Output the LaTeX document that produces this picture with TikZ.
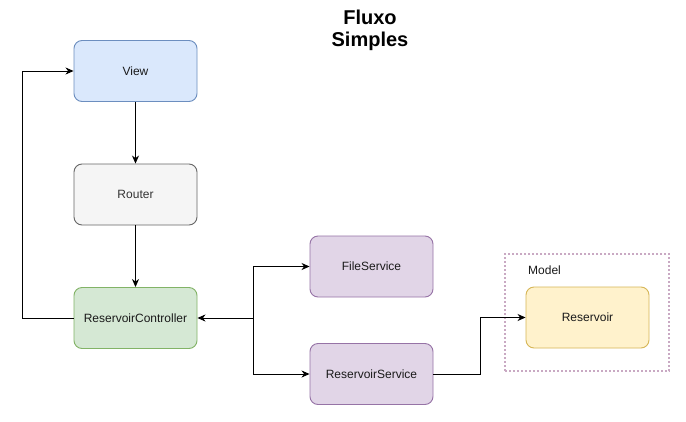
\documentclass[tikz,border=0pt]{standalone}
\usepackage{fontspec}
\setmainfont{Liberation Sans}
\usetikzlibrary{arrows.meta,positioning}
\definecolor{bluefill}{HTML}{DAE8FC}\definecolor{bluestroke}{HTML}{6C8EBF}
\definecolor{greyfill}{HTML}{F5F5F5}\definecolor{greystroke}{HTML}{666666}
\definecolor{greentext}{HTML}{333333}
\definecolor{greenfill}{HTML}{D5E8D4}\definecolor{greenstroke}{HTML}{82B366}
\definecolor{purplefill}{HTML}{E1D5E7}\definecolor{purplestroke}{HTML}{9673A6}
\definecolor{yellowfill}{HTML}{FFF2CC}\definecolor{yellowstroke}{HTML}{D6B656}
\definecolor{modelstroke}{HTML}{C9A9C3}
\definecolor{txt}{HTML}{1A1A1A}
\begin{document}
\begin{tikzpicture}[x=1pt,y=-1pt,
  box/.style={draw,rounded corners=8pt,minimum width=123pt,minimum height=61pt,line width=0.9pt,font=\fontsize{12}{14}\selectfont,text=txt,inner sep=0pt},
  conn/.style={line width=1pt,-{Stealth[length=8pt,width=7pt,inset=2.5pt]}},
  plain/.style={line width=1pt}]
\useasboundingbox (0,0) rectangle (686,421);
\fill[white] (0,0) rectangle (686,421);
\node[font=\bfseries\fontsize{20}{22}\selectfont,align=center] (title) at (370,30) {Fluxo\\Simples};
\node[box,fill=bluefill,draw=bluestroke] (view) at (135.5,71) {View};
\node[box,fill=greyfill,draw=greystroke,text=greentext] (router) at (135.5,194.5) {Router};
\node[box,fill=greenfill,draw=greenstroke] (ctrl) at (135.5,318) {ReservoirController};
\node[box,fill=purplefill,draw=purplestroke] (fs) at (371.5,266.5) {FileService};
\node[box,fill=purplefill,draw=purplestroke] (rs) at (371.5,374) {ReservoirService};
\node[draw=modelstroke,dash pattern=on 2pt off 2pt,line width=1.2pt,minimum width=164pt,minimum height=117pt,inner sep=0pt] (model) at (587,312.5) {};
\node[font=\fontsize{12}{14}\selectfont,text=txt,anchor=west,inner sep=0pt] (modellabel) at (528,270) {Model};
\node[box,fill=yellowfill,draw=yellowstroke] (res) at (587.5,317.5) {Reservoir};
\coordinate (junc) at (253,318);
\coordinate (leftc) at (22,318);
\coordinate (bend) at (480,374);
\draw[conn] (view) -- (router);
\draw[conn] (router) -- (ctrl);
\draw[conn] (ctrl.west) -- (leftc) |- (view.west);
\draw[conn] (junc) -- (ctrl.east);
\draw[conn] (junc) |- (fs.west);
\draw[conn] (junc) |- (rs.west);
\draw[conn] (rs.east) -- (bend) |- (res.west);
\end{tikzpicture}
\end{document}
